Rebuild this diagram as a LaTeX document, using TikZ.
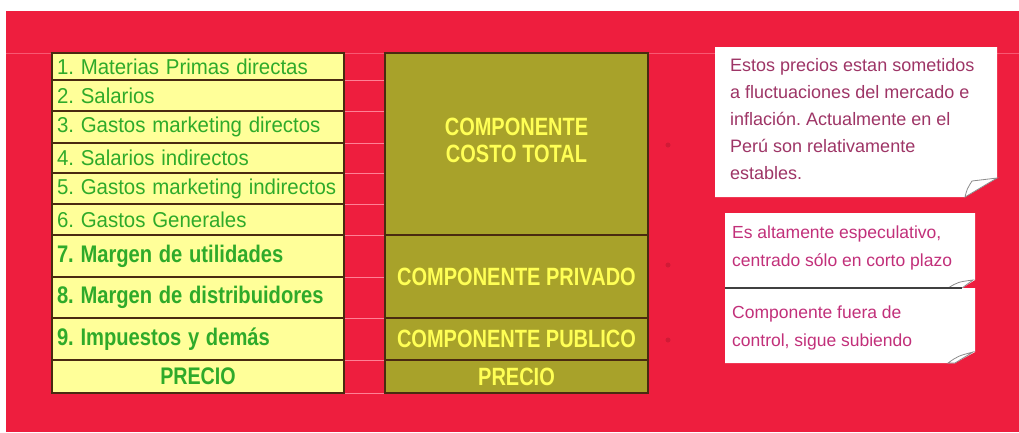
\documentclass[tikz,border=0pt]{standalone}
\usepackage{fontspec}
\setmainfont{Liberation Sans}
\usetikzlibrary{calc}
\definecolor{bgred}{HTML}{EE1E3E}
\definecolor{cellyel}{HTML}{FFFF99}
\definecolor{gtext}{HTML}{2FAA2A}
\definecolor{olive}{HTML}{A8A22A}
\definecolor{ytext}{HTML}{FFFF55}
\definecolor{border}{HTML}{4A2A10}
\definecolor{notea}{HTML}{9E3566}
\definecolor{noteb}{HTML}{C2307A}
\definecolor{gridpink}{HTML}{FF8095}
\newcommand\hsq[2]{\scalebox{#1}[1]{#2}}
\frenchspacing
\begin{document}
\begin{tikzpicture}[x=1pt,y=-1pt,
  cellL/.style={draw=border, line width=1.3pt, fill=cellyel, inner xsep=5pt, inner ysep=0pt,
    outer sep=0pt, text width=282pt, align=left, anchor=north west, text=gtext},
  rowN/.style={cellL, font=\fontsize{21.5}{22}\selectfont},
  rowB/.style={cellL, font=\bfseries\fontsize{24}{24}\selectfont},
  rowP/.style={cellL, align=center, font=\bfseries\fontsize{24}{24}\selectfont},
  cellM/.style={draw=border, line width=1.3pt, fill=olive, inner sep=0pt, outer sep=0pt,
    minimum width=263pt, anchor=north west, text=ytext, align=center,
    font=\bfseries\fontsize{25}{30}\selectfont},
  note/.style={fill=white, draw=none},
  notetext/.style={inner sep=0pt, anchor=north west, align=left},
  curl/.style={draw=black!45, line width=0.8pt, fill=white},
  gridln/.style={draw=gridpink, line width=0.7pt}]
\useasboundingbox (0,0) rectangle (1019,432);
\fill[white] (0,0) rectangle (1019,432);
\fill[bgred] (6,11) rectangle (1019,432);
% faint grid lines
\draw[gridln, opacity=0.6] (6,53) -- (1019,53);
\foreach \yy in {80,111,143,173,204,235,277,318,360,393}
  \draw[gridln] (344,\yy) -- (385,\yy);
% left column
\node[rowN, minimum height=27pt] (r1) at (52,53) {\hsq{0.95}{1. Materias Primas directas}};
\node[rowN, minimum height=31pt] (r2) at (52,80) {\hsq{0.95}{2. Salarios}};
\node[rowN, minimum height=32pt] (r3) at (52,111) {\hsq{0.95}{3. Gastos marketing directos}};
\node[rowN, minimum height=30pt] (r4) at (52,143) {\hsq{0.95}{4. Salarios indirectos}};
\node[rowN, minimum height=31pt] (r5) at (52,173) {\hsq{0.95}{5. Gastos marketing indirectos}};
\node[rowN, minimum height=31pt] (r6) at (52,204) {\hsq{0.95}{6. Gastos Generales}};
\node[rowB, minimum height=42pt] (r7) at (52,235) {\hsq{0.84}{7. Margen de utilidades}};
\node[rowB, minimum height=41pt] (r8) at (52,277) {\hsq{0.84}{8. Margen de distribuidores}};
\node[rowB, minimum height=42pt] (r9) at (52,318) {\hsq{0.84}{9. Impuestos y demás}};
\node[rowP, minimum height=33pt] (r10) at (52,360) {\hsq{0.82}{PRECIO}};
% middle column
\node[cellM, minimum height=182pt] (cct) at (385,53) {};
\node[text=ytext, align=center, font=\bfseries\fontsize{25}{30}\selectfont, inner sep=0pt]
  (cctt) at ($(cct.center)+(0,-4)$) {\hsq{0.8}{COMPONENTE}\\[-3pt]\hsq{0.8}{COSTO TOTAL}};
\node[cellM, minimum height=83pt] (cpr) at (385,235) {\hsq{0.8}{COMPONENTE PRIVADO}};
\node[cellM, minimum height=42pt] (cpu) at (385,318) {\hsq{0.8}{COMPONENTE PUBLICO}};
\node[cellM, minimum height=33pt] (cpp) at (385,360) {\hsq{0.8}{PRECIO}};
% faint marks
\foreach \yy in {145,265,340}
  \fill[black, opacity=0.12] (668,\yy) circle (2.5pt);
% note 1
\fill[note] (715,47) -- (997,47) -- (997,178) -- (965,197) -- (715,197) -- cycle;
\path[curl] (965,197) .. controls (967,189) .. (972,181) -- (997,178) -- cycle;
\node[notetext, text=notea, font=\fontsize{18}{27}\selectfont] (n1) at (730,58)
  {Estos precios estan sometidos\\a fluctuaciones del mercado e\\inflación. Actualmente en el\\Perú son relativamente\\estables.};
% note 2
\fill[note] (725,213) -- (975,213) -- (975,280) -- (962,288) -- (725,288) -- cycle;
\path[curl] (948,288) .. controls (958,282) .. (973,280) -- (962,288) -- cycle;
\node[notetext, text=noteb, font=\fontsize{17.5}{28}\selectfont] (n2) at (732,226)
  {Es altamente especulativo,\\centrado sólo en corto plazo};
% note 3
\fill[note] (725,288) -- (975,288) -- (975,352) -- (955,363) -- (725,363) -- cycle;
\path[curl] (948,363) .. controls (958,356) .. (973,352) -- (955,363) -- cycle;
\node[notetext, text=noteb, font=\fontsize{17.5}{28}\selectfont] (n3) at (732,306)
  {Componente fuera de\\control, sigue subiendo};
\draw[black!75, line width=1.3pt] (725,288) -- (962,288);
\end{tikzpicture}
\end{document}
